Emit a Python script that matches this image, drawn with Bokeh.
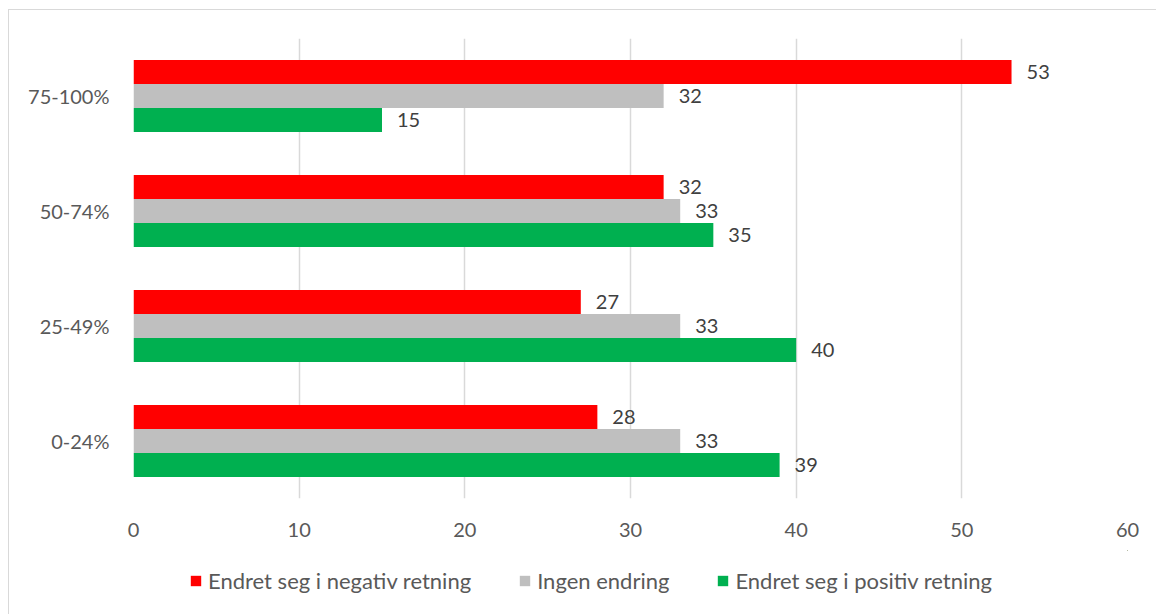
from bokeh.plotting import figure
from bokeh.models import ColumnDataSource, Legend, LegendItem, FixedTicker, Range1d
from bokeh.layouts import column
from bokeh.transform import dodge
from bokeh.core.properties import value
from bokeh.embed import file_html
from bokeh.resources import INLINE

categories = ["0-24%", "25-49%", "50-74%", "75-100%"]
negativ = [28, 27, 32, 53]
ingen = [33, 33, 33, 32]
positiv = [39, 40, 35, 15]
series_names = ["Endret seg i negativ retning", "Ingen endring", "Endret seg i positiv retning"]
x_ticks = [0, 10, 20, 30, 40, 50, 60]

colors = ["#FF0000", "#BFBFBF", "#00B050"]
FONT = "Lato"
FS = "20px"

src = ColumnDataSource(dict(
    cat=categories, neg=negativ, ing=ingen, pos=positiv,
    neg_t=[str(v) for v in negativ], ing_t=[str(v) for v in ingen], pos_t=[str(v) for v in positiv],
))

p = figure(y_range=categories, x_range=Range1d(0, 60), width=1147, height=540,
           output_backend="svg", toolbar_location=None,
           min_border_left=124, min_border_right=29, min_border_top=28, min_border_bottom=52)
p.outline_line_color = None

bh = 0.209
cols = ["neg", "ing", "pos"]
for col, off, c in zip(cols, [bh, 0.0, -bh], colors):
    p.hbar(y=dodge("cat", off, range=p.y_range), right=col, left=0, height=bh,
           source=src, fill_color=c, line_color=None)
    p.text(x=col, y=dodge("cat", off, range=p.y_range), text=col + "_t", source=src,
           x_offset=15, text_baseline="middle", text_align="left",
           text_font=value(FONT), text_font_size=FS, text_color="#404040")

p.xaxis.ticker = FixedTicker(ticks=x_ticks)
p.xaxis.axis_line_color = None
p.xaxis.major_tick_line_color = None
p.xaxis.minor_tick_line_color = None
p.xaxis.major_label_text_font = FONT
p.xaxis.major_label_text_font_size = FS
p.xaxis.major_label_text_color = "#595959"
p.xaxis.major_label_standoff = 18

p.yaxis.axis_line_color = None
p.yaxis.major_tick_line_color = None
p.yaxis.major_label_text_font = FONT
p.yaxis.major_label_text_font_size = FS
p.yaxis.major_label_text_color = "#595959"
p.yaxis.major_label_standoff = 18

p.ygrid.grid_line_color = None
p.xgrid.grid_line_color = "#D9D9D9"
p.xgrid.grid_line_width = 1.5

# legend strip below the chart (its proxy bars lie outside its 0..1 ranges, so only the legend shows)
pl = figure(width=1147, height=64, x_range=Range1d(0, 1), y_range=Range1d(0, 1),
            output_backend="svg", toolbar_location=None,
            min_border_left=0, min_border_right=0, min_border_top=0, min_border_bottom=0,
            x_axis_location=None, y_axis_location=None)
pl.outline_line_color = None
pl.grid.grid_line_color = None
proxy = []
for col, c in zip(cols, colors):
    proxy.append(pl.hbar(y=col, right=col, left=col, height=0, source=src,
                         fill_color=c, line_color=None))

legend = Legend(items=[LegendItem(label=n, renderers=[r]) for n, r in zip(series_names, proxy)],
                orientation="horizontal", location=(56, 20),
                label_text_font=FONT, label_text_font_size="22px", label_text_color="#595959",
                glyph_width=13, glyph_height=13, label_standoff=6, spacing=47,
                border_line_color=None, background_fill_alpha=0, margin=0, padding=0)
pl.add_layout(legend, "center")

layout = column(p, pl, margin=(9, 0, 0, 8), spacing=0,
                styles={"border-top": "1px solid #D9D9D9", "border-left": "1px solid #D9D9D9"})
open("out.html", "w").write(file_html(layout, INLINE))
